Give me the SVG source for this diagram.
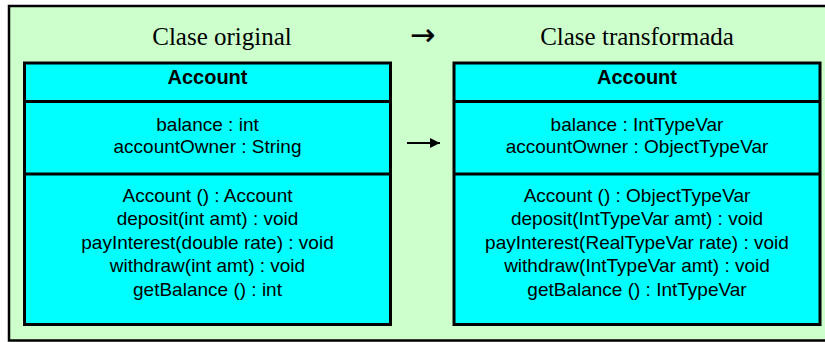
<svg xmlns="http://www.w3.org/2000/svg" width="825" height="342" viewBox="0 0 825 342">
  <style>
    .frame { fill: #CCFFCC; stroke: #000; stroke-width: 2.5; }
    .cls { fill: #00FFFF; stroke: #000; stroke-width: 3; }
    .div { stroke: #000; stroke-width: 3; }
    .title { font-family: "Liberation Serif", "Times New Roman", serif; font-size: 25px; fill: #000; text-anchor: middle; }
    .sym { font-family: "DejaVu Sans", "Liberation Sans", sans-serif; font-size: 30px; fill: #000; stroke: #000; stroke-width: 0.3; text-anchor: middle; }
    .name { font-family: "Liberation Sans", Arial, sans-serif; font-size: 20px; font-weight: bold; fill: #000; text-anchor: middle; }
    .member { font-family: "Liberation Sans", Arial, sans-serif; font-size: 19px; fill: #000; text-anchor: middle; }
    .link { stroke: #000; stroke-width: 2; fill: none; }
  </style>
  <defs>
    <marker id="head" viewBox="0 0 10 10" refX="10" refY="5" markerWidth="5" markerHeight="5" markerUnits="strokeWidth" orient="auto">
      <path d="M0,0 L10,5 L0,10 z" fill="#000"/>
    </marker>
  </defs>

  <!-- background panel -->
  <rect class="frame" x="9" y="6" width="830" height="334.5"/>

  <!-- column headings -->
  <g id="titles">
    <text class="title" x="222" y="45">Clase original</text>
    <text class="sym" x="422.5" y="45">→</text>
    <text class="title" x="637" y="45">Clase transformada</text>
  </g>

  <!-- original class -->
  <g id="class-original">
    <rect class="cls" x="24.5" y="63" width="366" height="261.5"/>
    <line class="div" x1="24.5" y1="101.5" x2="390.5" y2="101.5"/>
    <line class="div" x1="24.5" y1="174" x2="390.5" y2="174"/>
    <text class="name" x="207.5" y="84">Account</text>
    <text class="member" x="207.5" y="131">balance : int</text>
    <text class="member" x="207.5" y="153">accountOwner : String</text>
    <text class="member" x="207.5" y="201.5">Account () : Account</text>
    <text class="member" x="207.5" y="225">deposit(int amt) : void</text>
    <text class="member" x="207.5" y="248.5">payInterest(double rate) : void</text>
    <text class="member" x="207.5" y="272">withdraw(int amt) : void</text>
    <text class="member" x="207.5" y="295.5">getBalance () : int</text>
  </g>

  <!-- transformed class -->
  <g id="class-transformed">
    <rect class="cls" x="454" y="63" width="366" height="261.5"/>
    <line class="div" x1="454" y1="101.5" x2="820" y2="101.5"/>
    <line class="div" x1="454" y1="174" x2="820" y2="174"/>
    <text class="name" x="637" y="84">Account</text>
    <text class="member" x="637" y="131">balance : IntTypeVar</text>
    <text class="member" x="637" y="153">accountOwner : ObjectTypeVar</text>
    <text class="member" x="637" y="201.5">Account () : ObjectTypeVar</text>
    <text class="member" x="637" y="225">deposit(IntTypeVar amt) : void</text>
    <text class="member" x="637" y="248.5">payInterest(RealTypeVar rate) : void</text>
    <text class="member" x="637" y="272">withdraw(IntTypeVar amt) : void</text>
    <text class="member" x="637" y="295.5">getBalance () : IntTypeVar</text>
  </g>

  <!-- transformation arrow -->
  <g id="connectors">
    <line class="link" x1="407" y1="143" x2="440" y2="143" marker-end="url(#head)"/>
  </g>
</svg>
